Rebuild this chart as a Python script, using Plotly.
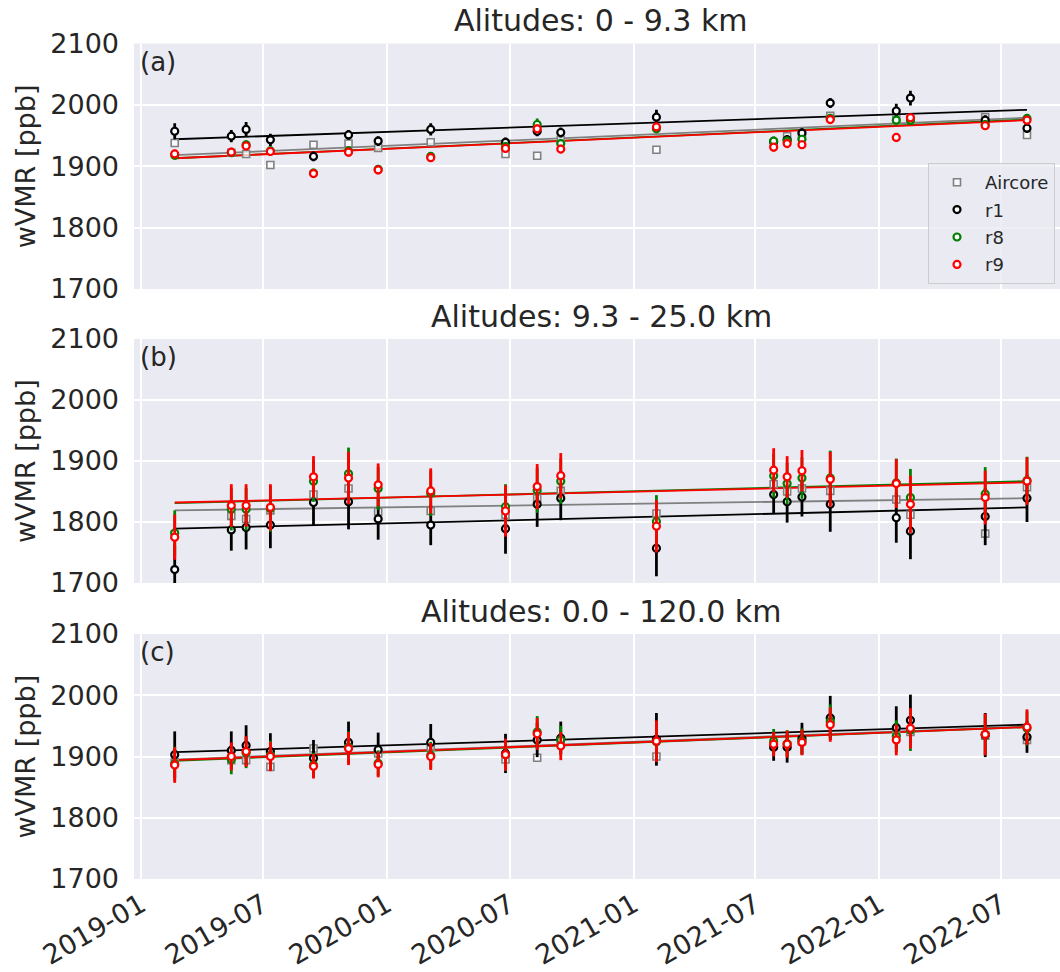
import plotly.graph_objects as go
from plotly.subplots import make_subplots

dates = ['2019-02-20', '2019-05-15', '2019-06-06', '2019-07-12', '2019-09-14', '2019-11-05',
         '2019-12-19', '2020-03-06', '2020-06-25', '2020-08-11', '2020-09-15', '2021-02-04',
         '2021-07-28', '2021-08-17', '2021-09-08', '2021-10-20', '2022-01-26', '2022-02-16',
         '2022-06-07', '2022-08-08']

panel_titles = ['Alitudes: 0 - 9.3 km', 'Alitudes: 9.3 - 25.0 km', 'Alitudes: 0.0 - 120.0 km']
panel_tags = ['(a)', '(b)', '(c)']
series_names = ['Aircore', 'r1', 'r8', 'r9']

# Panel (a) 0 - 9.3 km
aircore_a = [1938, 1922, 1920, 1902, 1935, 1937, 1930, 1939, 1920, 1917, 1943, 1927, 1938, 1949, 1950, 1982, 1976, 1978, 1980, 1951]
r1_a = [1957, 1949, 1960, 1943, 1916, 1951, 1941, 1960, 1939, 1957, 1955, 1980, 1940, 1943, 1954, 2003, 1990, 2011, 1975, 1962]
r8_a = [1918, 1922, 1935, 1925, 1889, 1925, 1895, 1916, 1932, 1968, 1937, 1961, 1941, 1941, 1944, 1978, 1975, 1975, 1968, 1978]
r9_a = [1920, 1923, 1933, 1924, 1888, 1923, 1894, 1914, 1929, 1961, 1928, 1964, 1931, 1937, 1935, 1976, 1947, 1979, 1966, 1975]
r1_a_err = [13, 10, 12, 10, 8, 8, 8, 10, 8, 8, 8, 12, 8, 8, 8, 8, 12, 12, 8, 8]
r8_a_err = [7, 7, 7, 7, 7, 7, 7, 7, 7, 10, 7, 7, 7, 7, 7, 7, 7, 7, 7, 7]
r9_a_err = [7, 7, 7, 7, 7, 7, 7, 7, 7, 7, 7, 7, 7, 7, 7, 7, 7, 7, 7, 7]

# Panel (b) 9.3 - 25.0 km
aircore_b = [1779, 1810, 1805, 1819, 1845, 1855, 1817, 1818, 1812, 1839, 1851, 1814, 1862, 1850, 1855, 1851, 1837, 1812, 1781, 1857]
r1_b = [1722, 1787, 1791, 1795, 1832, 1833, 1805, 1795, 1789, 1829, 1839, 1757, 1845, 1833, 1841, 1829, 1807, 1785, 1809, 1839]
r8_b = [1782, 1821, 1821, 1822, 1867, 1879, 1855, 1847, 1825, 1852, 1867, 1801, 1876, 1863, 1872, 1872, 1864, 1840, 1846, 1868]
r9_b = [1775, 1827, 1827, 1824, 1874, 1872, 1861, 1851, 1818, 1858, 1876, 1793, 1885, 1874, 1884, 1870, 1863, 1829, 1840, 1867]
r1_b_err = [40, 34, 36, 38, 37, 45, 34, 33, 41, 37, 36, 46, 31, 34, 32, 45, 41, 46, 47, 39]
r8_b_err = [37, 35, 35, 38, 34, 43, 35, 37, 37, 37, 37, 43, 36, 34, 34, 45, 40, 47, 44, 39]
r9_b_err = [37, 35, 35, 38, 34, 43, 35, 37, 42, 37, 37, 43, 36, 34, 34, 45, 40, 47, 44, 39]

# Panel (c) 0.0 - 120.0 km
aircore_c = [1890, 1894, 1894, 1883, 1913, 1918, 1905, 1916, 1895, 1898, 1925, 1900, 1918, 1918, 1925, 1960, 1940, 1940, 1934, 1927]
r1_c = [1903, 1910, 1918, 1908, 1897, 1923, 1911, 1923, 1905, 1927, 1930, 1928, 1915, 1915, 1929, 1963, 1947, 1959, 1935, 1932]
r8_c = [1888, 1895, 1906, 1902, 1886, 1915, 1889, 1902, 1903, 1940, 1927, 1924, 1925, 1921, 1925, 1957, 1933, 1943, 1936, 1946]
r9_c = [1886, 1900, 1908, 1900, 1884, 1913, 1887, 1900, 1903, 1937, 1917, 1925, 1920, 1920, 1923, 1952, 1927, 1946, 1936, 1948]
r1_c_err = [38, 31, 33, 30, 30, 34, 28, 30, 32, 28, 27, 43, 22, 25, 26, 36, 35, 42, 36, 26]
r8_c_err = [28, 24, 25, 24, 20, 26, 21, 22, 26, 26, 23, 33, 20, 22, 21, 28, 26, 34, 33, 28]
r9_c_err = [29, 23, 25, 24, 20, 27, 21, 22, 26, 26, 23, 34, 20, 22, 21, 28, 25, 33, 34, 29]

# Linear trend lines: value at first and last date [Aircore, r1, r8, r9]
trend_a = [(1918, 1979), (1944, 1992), (1913, 1976), (1913, 1975)]
trend_b = [(1819, 1839), (1789, 1824), (1831, 1867), (1832, 1865)]
trend_c = [(1895, 1949), (1907, 1952), (1893, 1948), (1894, 1948)]

y_ticks = [1700, 1800, 1900, 2000, 2100]
x_tickvals = ['2019-01-01', '2019-07-01', '2020-01-01', '2020-07-01', '2021-01-01',
              '2021-07-01', '2022-01-01', '2022-07-01']
x_ticktext = ['2019-01', '2019-07', '2020-01', '2020-07', '2021-01', '2021-07', '2022-01', '2022-07']

panels = [
    ([aircore_a, r1_a, r8_a, r9_a], [None, r1_a_err, r8_a_err, r9_a_err], trend_a),
    ([aircore_b, r1_b, r8_b, r9_b], [None, r1_b_err, r8_b_err, r9_b_err], trend_b),
    ([aircore_c, r1_c, r8_c, r9_c], [None, r1_c_err, r8_c_err, r9_c_err], trend_c),
]

colors = ['#808080', 'black', 'green', 'red']
TXT = '#262626'
FONT = 'DejaVu Sans'
W, H = 1060, 972
L = 134
PW = W - L

# pixel extents (top, bottom) of each panel
ext = [(43.5, 289), (339, 583), (634, 879)]

fig = make_subplots(rows=3, cols=1, shared_xaxes=True)

for i, (vals, errs, trends) in enumerate(panels):
    row = i + 1
    for k in range(4):
        fig.add_trace(go.Scatter(
            x=[dates[0], dates[-1]], y=list(trends[k]), mode='lines',
            line=dict(color=colors[k], width=1.8), showlegend=False, hoverinfo='skip'),
            row=row, col=1)
    for k in range(4):
        if k == 0:
            marker = dict(symbol='square', size=7, color='rgba(255,255,255,0.75)',
                          line=dict(color=colors[k], width=1.6))
            err = None
        else:
            marker = dict(symbol='circle', size=7, color='white',
                          line=dict(color=colors[k], width=2.2))
            err = dict(type='data', array=errs[k], visible=True, thickness=2.8, width=0,
                       color=colors[k])
        fig.add_trace(go.Scatter(
            x=dates, y=vals[k], mode='markers', name=series_names[k],
            marker=marker, error_y=err, showlegend=(i == 0), legendgroup=series_names[k]),
            row=row, col=1)

annotations = []
for i in range(3):
    top, bot = ext[i]
    dom = [(H - bot) / H, (H - top) / H]
    yk = 'yaxis' if i == 0 else f'yaxis{i+1}'
    xk = 'xaxis' if i == 0 else f'xaxis{i+1}'
    fig.layout[yk].update(
        domain=dom, range=[1700, 2100], tickvals=y_ticks, showgrid=True, automargin=False,
        gridcolor='white', gridwidth=1.5, zeroline=False, showline=False,
        ticks='', ticklabelstandoff=14,
        tickfont=dict(family=FONT, size=27, color=TXT))
    fig.layout[xk].update(
        range=['2018-12-21 14:00', '2022-09-26'], tickvals=x_tickvals, ticktext=x_ticktext,
        showgrid=True, gridcolor='white', gridwidth=1.5, zeroline=False, showline=False,
        automargin=False,
        ticks='', showticklabels=(i == 2), tickangle=-30, ticklabelstandoff=4,
        tickfont=dict(family=FONT, size=27, color=TXT))
    annotations.append(dict(
        text=panel_titles[i], xref='paper', yref='paper',
        x=(601 - L) / PW, y=(H - (top - 3)) / H, xanchor='center', yanchor='bottom',
        showarrow=False, font=dict(family=FONT, size=30, color=TXT)))
    annotations.append(dict(
        text='wVMR [ppb]', xref='paper', yref='paper', textangle=-90,
        x=(25 - L) / PW, y=(H - (top + bot) / 2) / H, xanchor='center', yanchor='middle',
        showarrow=False, font=dict(family=FONT, size=27, color=TXT)))
    annotations.append(dict(
        text=panel_tags[i], xref='paper', yref='paper',
        x=4 / PW, y=(H - (top + 1)) / H, xanchor='left', yanchor='top',
        showarrow=False, font=dict(family=FONT, size=26, color=TXT)))

fig.update_layout(
    width=W, height=H,
    margin=dict(l=L, r=0, t=0, b=0, autoexpand=False),
    paper_bgcolor='white', plot_bgcolor='#EAEAF2',
    font=dict(family=FONT, color=TXT),
    annotations=annotations,
    legend=dict(x=(928 - L) / PW, y=(H - 163) / H, xanchor='left', yanchor='top',
                bgcolor='rgba(234,234,242,0.8)', bordercolor='#cccccc', borderwidth=1,
                font=dict(family=FONT, size=18, color=TXT), itemwidth=46,
                tracegroupgap=1),
)

fig.write_html('out.html')
